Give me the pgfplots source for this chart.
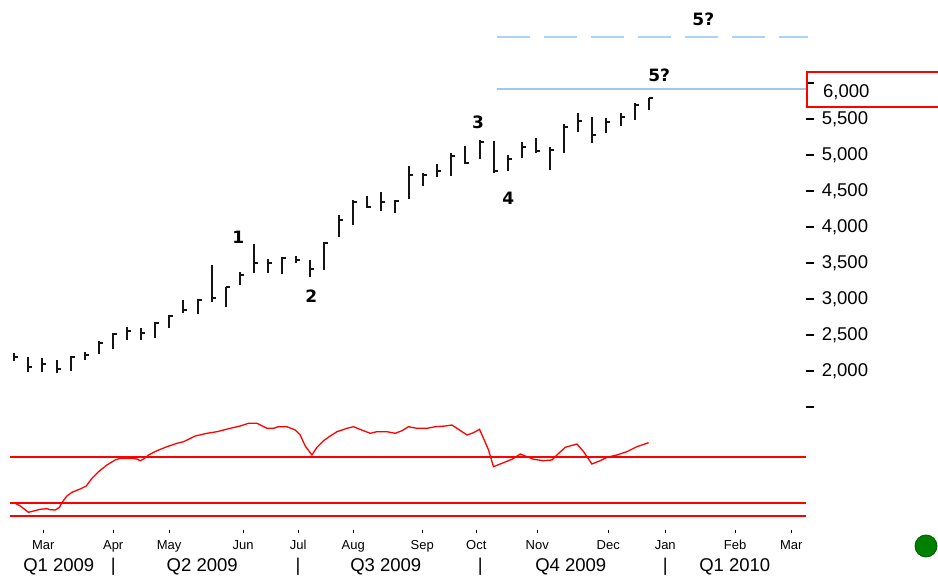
\documentclass[border=0pt]{standalone}
\usepackage{pgfplots}
\usepackage{pgfplotstable}
\pgfplotsset{compat=1.18}
\usepackage{fontspec}
\setmainfont{Liberation Sans}
\newfontfamily\wavefont{DejaVu Sans}
\definecolor{barink}{RGB}{20,20,20}
\definecolor{oscred}{RGB}{255,0,0}
\definecolor{tgtblue}{RGB}{160,200,245}
\definecolor{tgtbluelt}{RGB}{175,210,248}
\definecolor{dotgreen}{RGB}{0,128,0}
\newcommand{\TickFont}{\fontsize{18.5}{20}\selectfont}
\newcommand{\MonFont}{\fontsize{13}{14}\selectfont}
\newcommand{\WaveFont}{\wavefont\bfseries\fontsize{17}{18}\selectfont}

% close tick, drawn to the right of the bar
\pgfdeclareplotmark{closetick}{%
  \pgfpathmoveto{\pgfpoint{0pt}{0pt}}%
  \pgfpathlineto{\pgfpoint{\pgfplotmarksize}{0pt}}%
  \pgfusepathqstroke}

% weekly high / low / close
\pgfplotstableread{
i  high low  close
0  2254 2143 2199
1  2199 1990 2051
2  2176 1990 2097
3  2153 1968 2028
4  2208 2000 2199
5  2268 2153 2222
6  2421 2232 2385
7  2524 2301 2510
8  2615 2431 2556
9  2593 2431 2524
10 2685 2454 2663
11 2778 2593 2764
12 2986 2801 2847
13 2996 2788 2986
14 3472 2963 3010
15 3171 2889 3163
16 3379 3194 3333
17 3764 3365 3496
18 3551 3365 3496
19 3588 3343 3565
20 3597 3496 3542
21 3542 3310 3413
22 3796 3403 3782
23 4167 3857 4097
24 4375 4028 4351
25 4431 4260 4282
26 4490 4222 4351
27 4375 4190 4361
28 4847 4385 4722
29 4746 4574 4722
30 4875 4690 4782
31 5032 4708 4986
32 5125 4885 4893
33 5208 4940 5185
34 5194 4746 4778
35 5000 4778 4944
36 5176 4962 5115
37 5232 5024 5056
38 5115 4792 5069
39 5426 5024 5393
40 5579 5324 5472
41 5532 5163 5278
42 5510 5301 5454
43 5579 5403 5532
44 5718 5486 5694
45 5796 5625 5787
}\weekly

\begin{document}
\begin{tikzpicture}
\path[use as bounding box] (0pt,0pt) rectangle (938pt,581pt);

% ---- price panel
\begin{axis}[
  at={(10pt,159.6pt)}, anchor=south west,
  x=14.1pt, y=0.072pt,
  xmin=-0.3, xmax=56.17, ymin=1300, ymax=7150,
  axis x line=none, axis y line*=right,
  y axis line style={draw=none},
  ytick={1500,2000,...,6000},
  yticklabels={,{2,000},{2,500},{3,000},{3,500},{4,000},{4,500},{5,000},{5,500},},
  tick align=outside, major tick length=8pt,
  ytick style={line width=1.2pt, black},
  yticklabel style={font=\TickFont, anchor=west, xshift=4pt},
  clip=false,
]
\addplot[only marks, mark=closetick, mark size=4pt,
  mark options={line width=2pt, draw=barink},
  error bars/.cd, y dir=both, y explicit, error mark=none,
  error bar style={line width=2pt, barink}]
  table[x=i, y=close,
    y error plus expr=\thisrow{high}-\thisrow{close},
    y error minus expr=\thisrow{close}-\thisrow{low}] {\weekly};
% wave-5 targets
\addplot[tgtblue, line width=2pt] coordinates {(34.26,5912) (56.17,5912)};
\addplot[tgtbluelt, line width=1.6pt, dash pattern=on 33pt off 14pt]
  coordinates {(34.26,6635) (56.3,6635)};
\node[font=\WaveFont] at (axis cs:15.89,3861) {1};
\node[font=\WaveFont] at (axis cs:21.06,3042) {2};
\node[font=\WaveFont] at (axis cs:32.9,5458) {3};
\node[font=\WaveFont] at (axis cs:35.04,4403) {4};
\node[font=\WaveFont] at (axis cs:45.74,6111) {5?};
\node[font=\WaveFont] at (axis cs:48.87,6889) {5?};
\end{axis}

% last value box
\draw[oscred, line width=1.8pt] (806.7pt,473.7pt) rectangle (945pt,509.3pt);
\node[font=\TickFont, anchor=west, inner sep=0pt] at (823pt,488.3pt) {6,000};

% ---- oscillator panel
\begin{axis}[
  at={(10pt,51pt)}, anchor=south west,
  x=14.1pt, y=1pt,
  xmin=-0.3, xmax=56.17, ymin=0, ymax=130,
  axis y line=none, axis x line*=bottom,
  x axis line style={draw=none},
  xtick={2.06,7.02,10.99,16.24,20.14,24.04,28.94,32.77,37.09,42.13,46.17,51.13,55.11},
  xticklabels={Mar,Apr,May,Jun,Jul,Aug,Sep,Oct,Nov,Dec,Jan,Feb,Mar},
  tick align=outside, major tick length=3pt,
  xtick style={line width=1pt, black},
  xticklabel style={font=\MonFont, yshift=-4pt},
  clip=false,
]
\addplot[oscred, line width=1.8pt] coordinates {(-0.3,73.3) (56.17,73.3)};
\addplot[oscred, line width=1.8pt] coordinates {(-0.3,27.3) (56.17,27.3)};
\addplot[oscred, line width=1.8pt] coordinates {(-0.3,13.7) (56.17,13.7)};
\addplot[oscred, line width=1.3pt] coordinates {
(0.07,26.7) (0.43,24) (1.01,17.7) (1.37,19) (1.84,20.7) (2.32,21.3)
(2.55,20.3) (2.91,20) (3.21,22.7) (3.38,27.3) (3.74,34) (4.09,37.7)
(4.68,41) (5.11,44) (5.51,51.7) (5.98,58.3) (6.57,65) (7.16,70)
(7.52,71.7) (7.99,71.7) (8.35,71.7) (8.70,71) (8.94,69.3) (9.17,71)
(9.52,75) (10.12,79.3) (10.83,83.3) (11.54,86.7) (12.01,88.3) (12.84,94)
(13.67,96.7) (14.38,98.3) (15.32,101.7) (16.03,104) (16.62,106.7) (17.21,106.7)
(17.92,101.7) (18.39,101.7) (18.74,103.3) (19.34,103.3) (19.93,100) (20.28,95)
(20.64,84) (21.11,75) (21.47,82.7) (21.94,89.3) (22.41,94) (22.89,98.3)
(23.60,101.7) (24.06,103.3) (24.77,99.3) (25.25,96.7) (25.72,98.3) (26.43,98.3)
(27.02,96.7) (27.50,99.3) (27.96,103.3) (28.56,101.7) (29.27,101.7) (29.86,103.3)
(30.57,104) (31.04,105) (31.40,101.7) (32.11,95) (32.57,97.3) (33.00,100.7)
(33.28,91.7) (33.64,80) (33.99,63.3) (34.59,66.7) (35.30,70.7) (35.89,76)
(36.24,74) (36.83,70.7) (37.54,69.3) (38.13,70) (38.49,75) (39.08,82.7)
(39.91,86) (40.38,78.3) (40.97,66) (41.56,69.3) (42.04,72.7) (42.74,75)
(43.45,78.3) (44.16,83.3) (44.99,87.3)
};
% quarter row
\node[font=\TickFont] at (axis cs:3.16,-37) {Q1 2009};
\node[font=\TickFont] at (axis cs:13.33,-37) {Q2 2009};
\node[font=\TickFont] at (axis cs:26.35,-37) {Q3 2009};
\node[font=\TickFont] at (axis cs:39.47,-37) {Q4 2009};
\node[font=\TickFont] at (axis cs:51.1,-37) {Q1 2010};
\node[font=\TickFont] at (axis cs:7.02,-37) {|};
\node[font=\TickFont] at (axis cs:20.12,-37) {|};
\node[font=\TickFont] at (axis cs:33.05,-37) {|};
\node[font=\TickFont] at (axis cs:46.17,-37) {|};
\end{axis}

% status dot
\fill[dotgreen, draw=dotgreen!70!black, line width=0.8pt] (926pt,35pt) circle (11pt);
\end{tikzpicture}
\end{document}
